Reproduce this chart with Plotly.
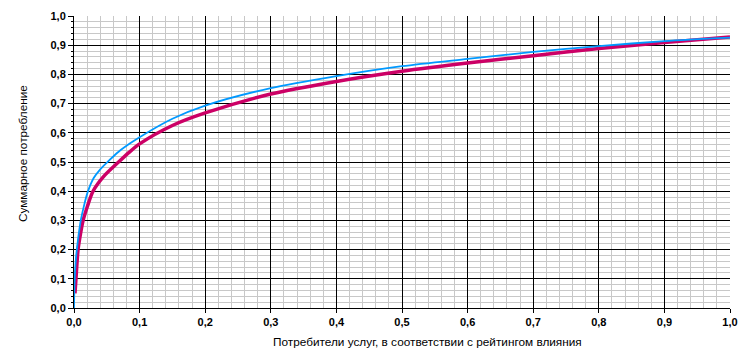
import plotly.graph_objects as go

# Data
blue_x = [0.0, 0.0005, 0.0015, 0.003, 0.0046, 0.007, 0.0103, 0.015, 0.0206, 0.03, 0.04, 0.052, 0.068, 0.085, 0.1, 0.15, 0.2, 0.3, 0.4, 0.5, 0.6, 0.7, 0.8, 0.9, 1.0]
blue_y = [0.0, 0.06, 0.12, 0.17, 0.205, 0.25, 0.3, 0.348, 0.395, 0.445, 0.475, 0.502, 0.535, 0.563, 0.585, 0.648, 0.693, 0.753, 0.794, 0.828, 0.853, 0.877, 0.897, 0.914, 0.926]

red_x = [0.0015, 0.003, 0.0062, 0.01, 0.0139, 0.02, 0.029, 0.045, 0.068, 0.084, 0.1, 0.15, 0.2, 0.3, 0.4, 0.5, 0.6, 0.7, 0.8, 0.9, 1.0]
red_y = [0.05, 0.1, 0.2, 0.255, 0.3, 0.345, 0.4, 0.45, 0.5, 0.533, 0.562, 0.625, 0.668, 0.733, 0.776, 0.811, 0.839, 0.864, 0.889, 0.909, 0.928]

tick_vals = [0.0, 0.1, 0.2, 0.3, 0.4, 0.5, 0.6, 0.7, 0.8, 0.9, 1.0]
tick_text = ["0,0", "0,1", "0,2", "0,3", "0,4", "0,5", "0,6", "0,7", "0,8", "0,9", "1,0"]
inner_vals = tick_vals[1:-1]

x_title = "Потребители услуг, в соответствии с рейтингом влияния"
y_title = "Суммарное потребление"

fig = go.Figure()
fig.add_trace(go.Scatter(x=red_x, y=red_y, mode="lines", line=dict(color="#cc0066", width=3.5, shape="spline", smoothing=0.8), hoverinfo="skip", showlegend=False))
fig.add_trace(go.Scatter(x=blue_x, y=blue_y, mode="lines", line=dict(color="#0099ff", width=1.8, shape="spline", smoothing=0.8), hoverinfo="skip", showlegend=False))
# invisible trace on overlay axes so they render
fig.add_trace(go.Scatter(x=[0], y=[0], xaxis="x2", yaxis="y2", mode="markers", marker=dict(opacity=0), hoverinfo="skip", showlegend=False))

bold_text = ["<b>" + t + "</b>" for t in tick_text]
tickfont = dict(family="Liberation Sans, Arial", size=11, color="black")
titlefont = dict(family="Liberation Sans Narrow, Arial Narrow, Liberation Sans", size=11.8, color="black")
gray = "#c8c8c8"

fig.update_layout(
    width=748, height=354,
    margin=dict(l=74, r=16, t=10, b=46),
    paper_bgcolor="white", plot_bgcolor="white",
    xaxis=dict(range=[0, 1], tickvals=tick_vals, ticktext=bold_text, tickfont=tickfont,
               showgrid=True, gridcolor=gray, gridwidth=1, zeroline=False,
               showline=True, linecolor="black", linewidth=1,
               ticks="outside", ticklen=4, tickcolor="black",
               minor=dict(dtick=0.02, showgrid=True, gridcolor=gray, gridwidth=1, ticks=""),
               fixedrange=True),
    yaxis=dict(range=[0, 1], tickvals=tick_vals, ticktext=bold_text, tickfont=tickfont,
               showgrid=True, gridcolor=gray, gridwidth=1, zeroline=False,
               showline=True, linecolor="black", linewidth=1,
               ticks="outside", ticklen=5, tickcolor="black",
               minor=dict(dtick=0.02, showgrid=True, gridcolor=gray, gridwidth=1, ticks="outside", ticklen=2, tickcolor="black"),
               fixedrange=True),
    xaxis2=dict(range=[0, 1], overlaying="x", tickvals=inner_vals, showticklabels=False,
                showgrid=True, gridcolor="black", gridwidth=1, zeroline=False, ticks="", fixedrange=True),
    yaxis2=dict(range=[0, 1], overlaying="y", tickvals=inner_vals, showticklabels=False,
                showgrid=True, gridcolor="black", gridwidth=1, zeroline=False, ticks="", fixedrange=True),
    annotations=[
        dict(text=x_title, xref="paper", yref="paper", x=0.539, y=-0.117, xanchor="center", yanchor="middle",
             showarrow=False, font=titlefont),
        dict(text=y_title, xref="paper", yref="paper", x=-0.078, y=0.53, xanchor="center", yanchor="middle",
             textangle=-90, showarrow=False, font=titlefont),
    ],
)

fig.write_html("out.html", config=dict(displayModeBar=False, staticPlot=True))
